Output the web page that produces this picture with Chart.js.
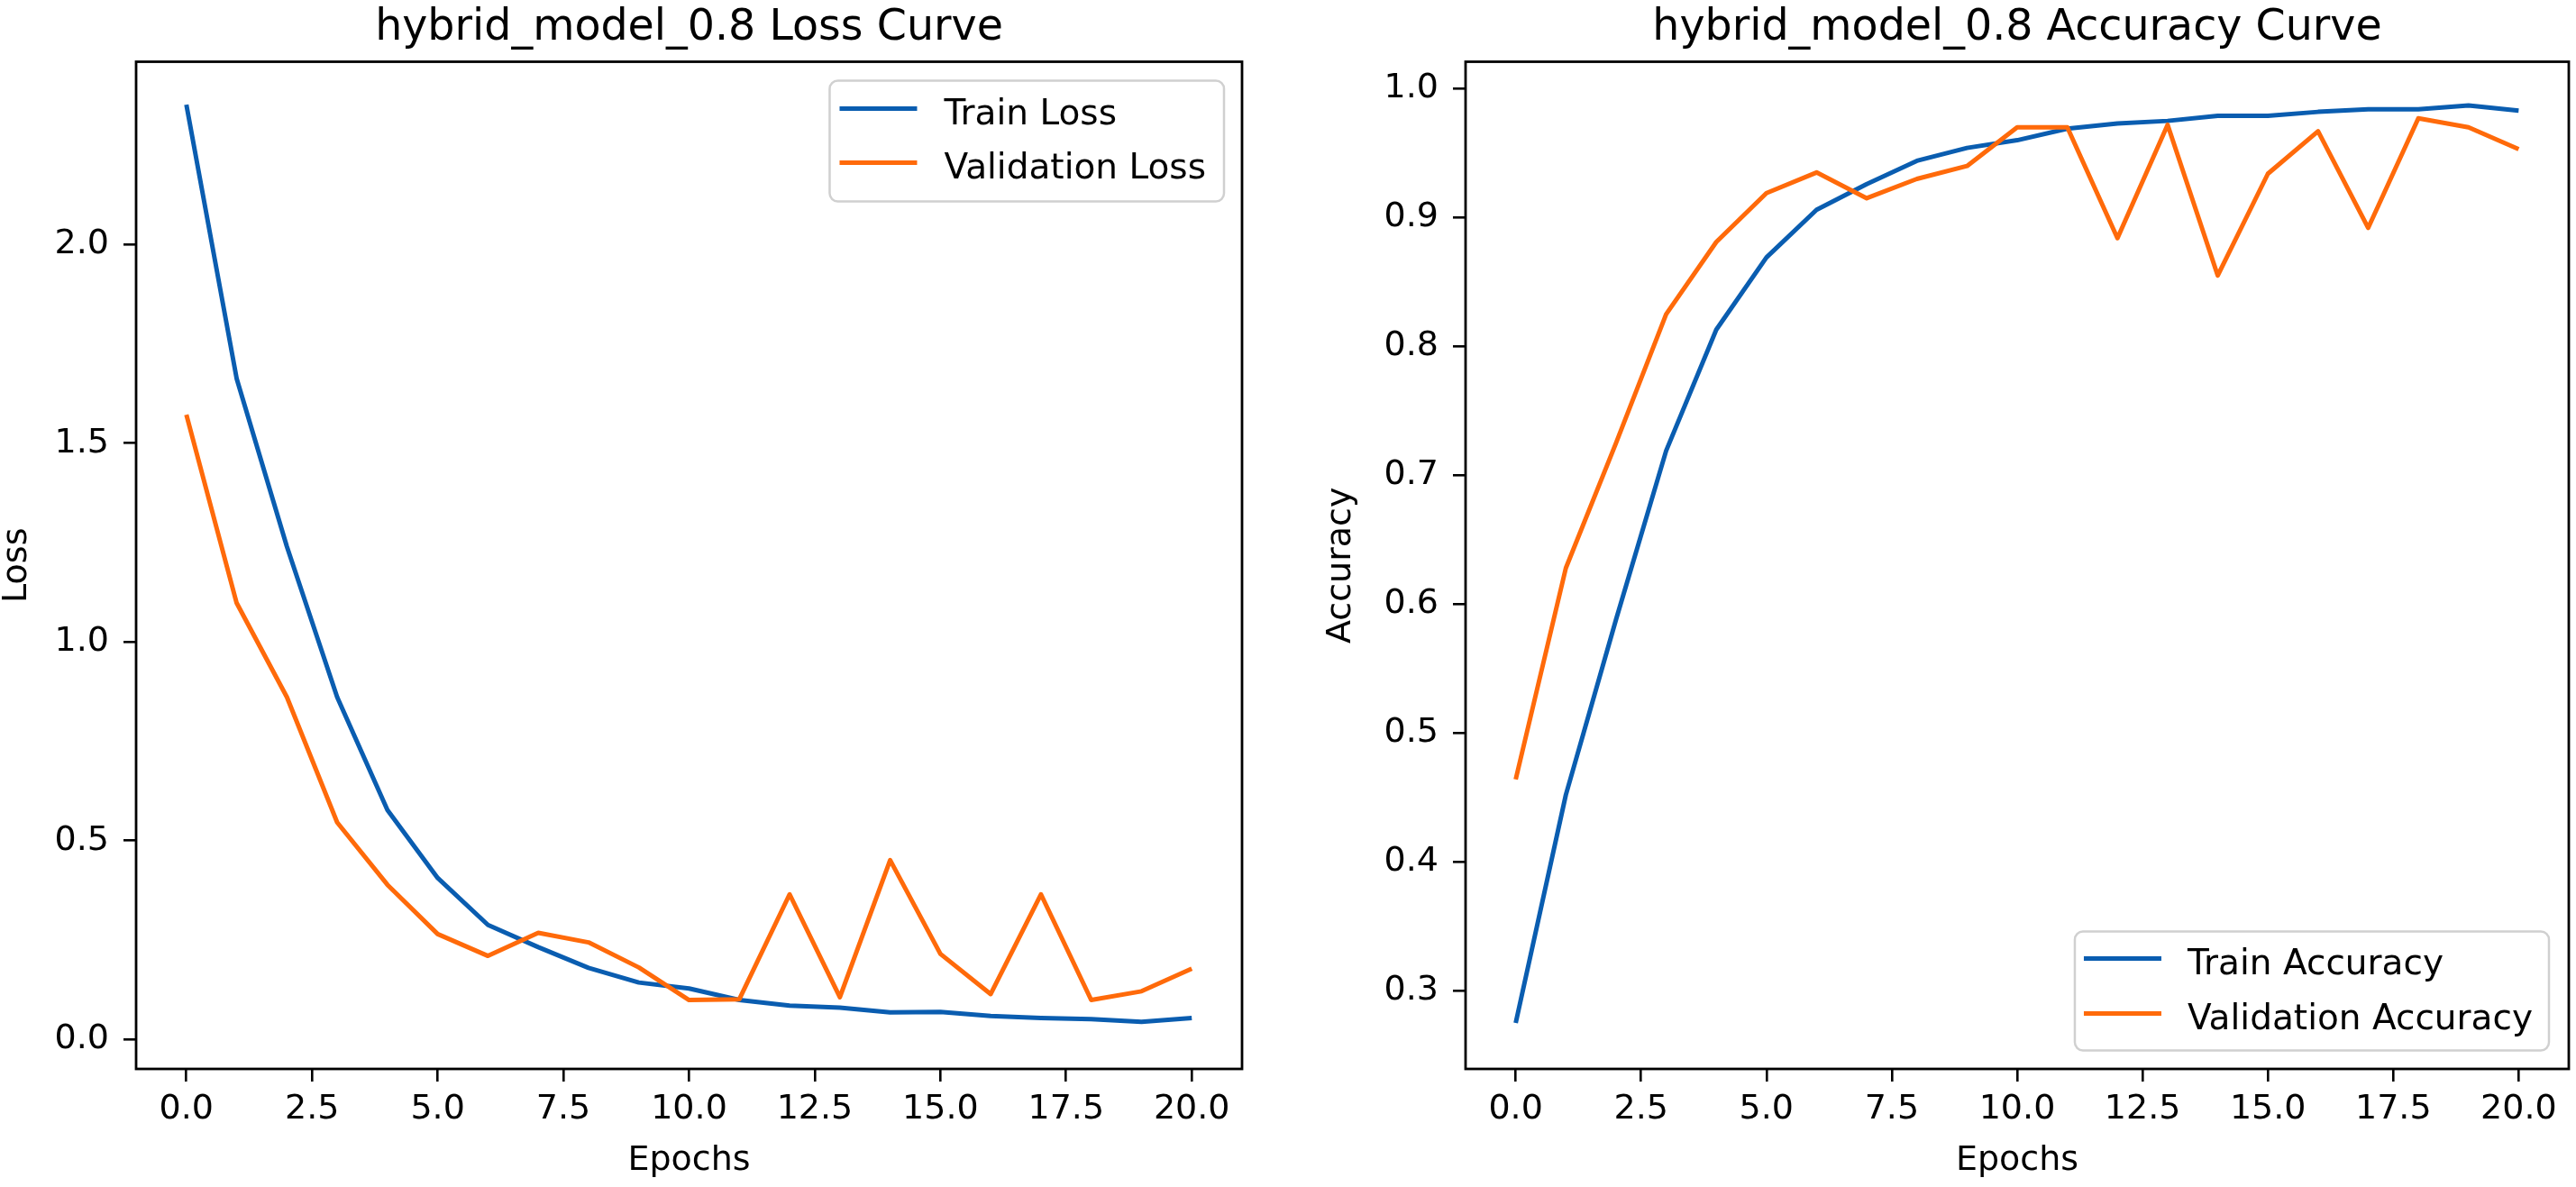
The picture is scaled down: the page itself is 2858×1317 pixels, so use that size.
<!DOCTYPE html>
<html>
<head>
<meta charset="utf-8">
<script src="https://cdn.jsdelivr.net/npm/chart.js@4.4.1/dist/chart.umd.min.js"></script>
<style>
    html, body { margin: 0; padding: 0; background: #fff; }
    .panel { position: absolute; top: 0; height: 1317px; }
    #left-panel { left: 0; width: 1420px; }
    #right-panel { left: 1420px; width: 1438px; }
</style>
</head>
<body>
<div class="panel" id="left-panel"><canvas id="loss-chart"></canvas></div>
<div class="panel" id="right-panel"><canvas id="acc-chart"></canvas></div>
<script>
// Values
const epochs = [0, 1, 2, 3, 4, 5, 6, 7, 8, 9, 10, 11, 12, 13, 14, 15, 16, 17, 18, 19, 20];
const trainLoss = [2.352, 1.663, 1.24, 0.861, 0.577, 0.406, 0.288, 0.232, 0.180, 0.143, 0.128,
                   0.099, 0.085, 0.080, 0.068, 0.069, 0.059, 0.054, 0.051, 0.044, 0.054];
const valLoss = [1.572, 1.098, 0.861, 0.546, 0.389, 0.265, 0.210, 0.268, 0.244, 0.181, 0.099,
                 0.101, 0.365, 0.106, 0.451, 0.215, 0.114, 0.365, 0.099, 0.121, 0.178];
const trainAcc = [0.275, 0.452, 0.588, 0.719, 0.813, 0.869, 0.906, 0.926, 0.944, 0.954, 0.960,
                  0.969, 0.973, 0.975, 0.979, 0.979, 0.982, 0.984, 0.984, 0.987, 0.983];
const valAcc = [0.464, 0.628, 0.725, 0.825, 0.881, 0.919, 0.935, 0.915, 0.930, 0.940, 0.970,
                0.970, 0.884, 0.972, 0.855, 0.934, 0.967, 0.892, 0.977, 0.970, 0.953];

const xTicks = [0, 2.5, 5, 7.5, 10, 12.5, 15, 17.5, 20];
const lossTicks = [0, 0.5, 1.0, 1.5, 2.0];
const accTicks = [0.3, 0.4, 0.5, 0.6, 0.7, 0.8, 0.9, 1.0];

const BLUE = '#0a5db0';
const ORANGE = '#ff6a0a';

Chart.defaults.font.family = '"DejaVu Sans", sans-serif';
Chart.defaults.color = '#000';

function toPoints(values) {
    return epochs.map((e, i) => ({ x: e, y: values[i] }));
}

// black box round the plot area, like matplotlib's spines
const framePlugin = {
    id: 'frame',
    afterDatasetsDraw(chart) {
        const { ctx, chartArea } = chart;
        ctx.save();
        ctx.strokeStyle = '#000';
        ctx.lineWidth = 2.8;
        ctx.strokeRect(chartArea.left, chartArea.top, chartArea.right - chartArea.left, chartArea.bottom - chartArea.top);
        ctx.restore();
    }
};

// matplotlib style legend with a rounded grey frame
const boxLegendPlugin = {
    id: 'boxLegend',
    afterDatasetsDraw(chart, args, opts) {
        const { ctx, chartArea } = chart;
        const sets = chart.data.datasets;
        ctx.save();
        ctx.font = '39px "DejaVu Sans"';
        const textW = Math.max(...sets.map(d => ctx.measureText(d.label).width));
        const w = opts.textX + textW + opts.padRight;
        const h = opts.height;
        const x = chartArea.right - opts.right - w;
        const y = opts.corner === 'top' ? chartArea.top + opts.offset : chartArea.bottom - opts.offset - h;

        ctx.beginPath();
        ctx.roundRect(x, y, w, h, 9);
        ctx.fillStyle = 'rgba(255,255,255,0.8)';
        ctx.fill();
        ctx.strokeStyle = '#d0d0d0';
        ctx.lineWidth = 2.5;
        ctx.stroke();

        sets.forEach((d, i) => {
            const ly = y + opts.firstRow + i * opts.rowGap;
            ctx.beginPath();
            ctx.moveTo(x + opts.lineX, ly);
            ctx.lineTo(x + opts.lineX + 86, ly);
            ctx.strokeStyle = d.borderColor;
            ctx.lineWidth = 5;
            ctx.stroke();
            ctx.fillStyle = '#000';
            ctx.textBaseline = 'alphabetic';
            ctx.fillText(d.label, x + opts.textX, ly + 17);
        });
        ctx.restore();
    }
};

function makeChart(canvasId, cfg) {
    return new Chart(document.getElementById(canvasId), {
        type: 'line',
        data: {
            datasets: [
                { label: cfg.labels[0], data: toPoints(cfg.train), borderColor: BLUE, order: 1 },
                { label: cfg.labels[1], data: toPoints(cfg.val), borderColor: ORANGE, order: 0 }
            ]
        },
        options: {
            responsive: true,
            maintainAspectRatio: false,
            devicePixelRatio: 1,
            animation: false,
            events: [],
            layout: { padding: { left: 0, right: cfg.padRight, top: 0, bottom: 0 } },
            elements: {
                line: { borderWidth: 5, tension: 0, borderJoinStyle: 'round', borderCapStyle: 'butt', fill: false },
                point: { radius: 0 }
            },
            scales: {
                x: {
                    type: 'linear',
                    min: -1,
                    max: 21,
                    afterBuildTicks: (scale) => { scale.ticks = xTicks.map(v => ({ value: v })); },
                    afterFit: (scale) => { scale.height = 131; },
                    grid: { drawOnChartArea: false, drawTicks: true, tickLength: 14, color: '#000', lineWidth: 2.6 },
                    border: { display: false },
                    ticks: {
                        autoSkip: false, maxRotation: 0, padding: 12,
                        font: { size: 38, lineHeight: 1 },
                        callback: (v) => Number(v).toFixed(1)
                    },
                    title: { display: true, text: 'Epochs', font: { size: 38, lineHeight: 1 }, padding: { top: 0, bottom: 10 } }
                },
                y: {
                    type: 'linear',
                    min: cfg.yMin,
                    max: cfg.yMax,
                    afterBuildTicks: (scale) => { scale.ticks = cfg.yTicks.map(v => ({ value: v })); },
                    afterFit: (scale) => { scale.width = cfg.yWidth; },
                    grid: { drawOnChartArea: false, drawTicks: true, tickLength: 14, color: '#000', lineWidth: 2.6 },
                    border: { display: false },
                    ticks: {
                        autoSkip: false, padding: 16,
                        font: { size: 38, lineHeight: 1 },
                        callback: (v) => Number(v).toFixed(1)
                    },
                    title: { display: true, text: cfg.yLabel, font: { size: 38, lineHeight: 1 }, padding: { top: cfg.yTitlePad, bottom: 0 } }
                }
            },
            plugins: {
                legend: { display: false },
                tooltip: { enabled: false },
                title: {
                    display: true,
                    fullSize: false,
                    text: cfg.title,
                    font: { size: 47.5, weight: 'normal', lineHeight: 1.2 },
                    padding: { top: 3, bottom: 8.5 }
                },
                boxLegend: cfg.legend
            }
        },
        plugins: [framePlugin, boxLegendPlugin]
    });
}

makeChart('loss-chart', {
    title: 'hybrid_model_0.8 Loss Curve',
    labels: ['Train Loss', 'Validation Loss'],
    train: trainLoss,
    val: valLoss,
    yMin: -0.0744,
    yMax: 2.46,
    yTicks: lossTicks,
    yLabel: 'Loss',
    yWidth: 151,
    yTitlePad: 0,
    padRight: 42,
    legend: { corner: 'top', right: 20, offset: 21, height: 134, lineX: 11, textX: 127, padRight: 20, firstRow: 31, rowGap: 60 }
});

makeChart('acc-chart', {
    title: 'hybrid_model_0.8 Accuracy Curve',
    labels: ['Train Accuracy', 'Validation Accuracy'],
    train: trainAcc,
    val: valAcc,
    yMin: 0.2393,
    yMax: 1.0209,
    yTicks: accTicks,
    yLabel: 'Accuracy',
    yWidth: 206,
    yTitlePad: 49,
    padRight: 8,
    legend: { corner: 'bottom', right: 22, offset: 20.5, height: 132, lineX: 10, textX: 125, padRight: 18, firstRow: 30, rowGap: 61 }
});
</script>
</body>
</html>
